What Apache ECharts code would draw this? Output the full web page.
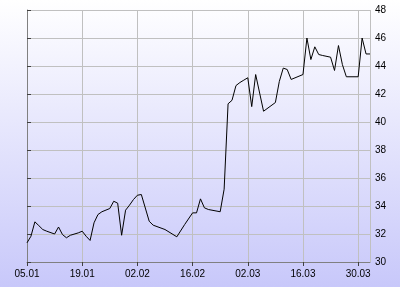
<!DOCTYPE html>
<html>
<head>
<meta charset="utf-8">
<script src="https://cdn.jsdelivr.net/npm/echarts@6/dist/echarts.min.js"></script>
<style>html,body{margin:0;padding:0;}#c{width:400px;height:287px;}</style>
</head>
<body>
<div id="c"></div>
<script>
var YEAR = 2015;
var dates = [
  '05.01','06.01','07.01','08.01','09.01','10.01',
  '12.01','13.01','14.01','15.01','16.01',
  '18.01','19.01','20.01','21.01','22.01','23.01','24.01',
  '26.01','27.01','28.01','29.01','30.01','31.01',
  '01.02','02.02','03.02',
  '05.02','06.02',
  '09.02',
  '12.02',
  '14.02',
  '16.02','17.02','18.02','19.02','20.02',
  '23.02','24.02','25.02','26.02','27.02','28.02',
  '01.03','02.03','03.03','04.03',
  '06.03',
  '09.03','10.03','11.03','12.03','13.03',
  '16.03','17.03','18.03','19.03','20.03','21.03',
  '23.03','24.03','25.03','26.03','27.03',
  '30.03','31.03','01.04','02.04'
];
var values = [
  31.37,31.84,32.87,32.6,32.32,32.2,
  32.0,32.5,31.96,31.73,31.91,
  32.08,32.2,31.84,31.54,32.8,33.39,33.59,
  33.82,34.34,34.2,31.91,33.7,34.06,
  34.46,34.77,34.82,
  32.91,32.63,
  32.32,
  31.8,
  32.68,
  33.51,33.51,34.51,33.87,33.75,
  33.59,35.2,41.3,41.55,42.6,42.82,
  42.99,43.16,41.1,43.39,
  40.77,
  41.39,42.9,43.85,43.75,43.04,
  43.39,46.0,44.46,45.37,44.82,44.75,
  44.63,43.68,45.46,44.1,43.23,
  43.23,46.0,44.86,44.86
];
var startDate = '05.01';
var endDate = '02.04';
var xTickDays = 14;
var yMin = 30, yMax = 48, yStep = 2;

function toDay(s) {
  var p = s.split('.');
  var t = Date.UTC(YEAR, +p[1] - 1, +p[0]);
  var p0 = startDate.split('.');
  var t0 = Date.UTC(YEAR, +p0[1] - 1, +p0[0]);
  return Math.round((t - t0) / 86400000);
}
function dayLabel(d) {
  var p0 = startDate.split('.');
  var dt = new Date(Date.UTC(YEAR, +p0[1] - 1, +p0[0]) + d * 86400000);
  var dd = ('0' + dt.getUTCDate()).slice(-2);
  var mm = ('0' + (dt.getUTCMonth() + 1)).slice(-2);
  return dd + '.' + mm;
}
var seriesData = dates.map(function (d, i) { return [toDay(d), values[i]]; });

var chart = echarts.init(document.getElementById('c'), null, {renderer: 'canvas'});
var font = {fontFamily: 'Liberation Sans', fontSize: 10, color: '#000'};
chart.setOption({
  animation: false,
  backgroundColor: {
    type: 'linear', x: 0, y: 0, x2: 0, y2: 1,
    colorStops: [{offset: 0, color: '#ffffff'}, {offset: 1, color: '#c8c8fa'}]
  },
  grid: {left: 27, right: 30, top: 10, bottom: 25, containLabel: false},
  xAxis: {
    type: 'value', min: 0, max: toDay(endDate), interval: xTickDays,
    axisLine: {show: true, lineStyle: {color: '#808080', width: 1}},
    axisTick: {show: true, length: 4, lineStyle: {color: '#404040'}},
    axisLabel: Object.assign({margin: 7, showMaxLabel: false, formatter: function (v) { return dayLabel(v); }}, font),
    splitLine: {show: true, lineStyle: {color: '#c0c0c0', width: 1}}
  },
  yAxis: {
    type: 'value', position: 'right', min: yMin, max: yMax, interval: yStep,
    axisLine: {show: true, lineStyle: {color: '#808080', width: 1}},
    axisTick: {show: true, length: 4, lineStyle: {color: '#404040'}},
    axisLabel: Object.assign({margin: 5}, font),
    splitLine: {show: true, lineStyle: {color: '#c0c0c0', width: 1}}
  },
  series: [{
    type: 'line', data: seriesData, showSymbol: false, symbol: 'none',
    lineStyle: {color: '#000', width: 1}
  }]
});
</script>
</body>
</html>
